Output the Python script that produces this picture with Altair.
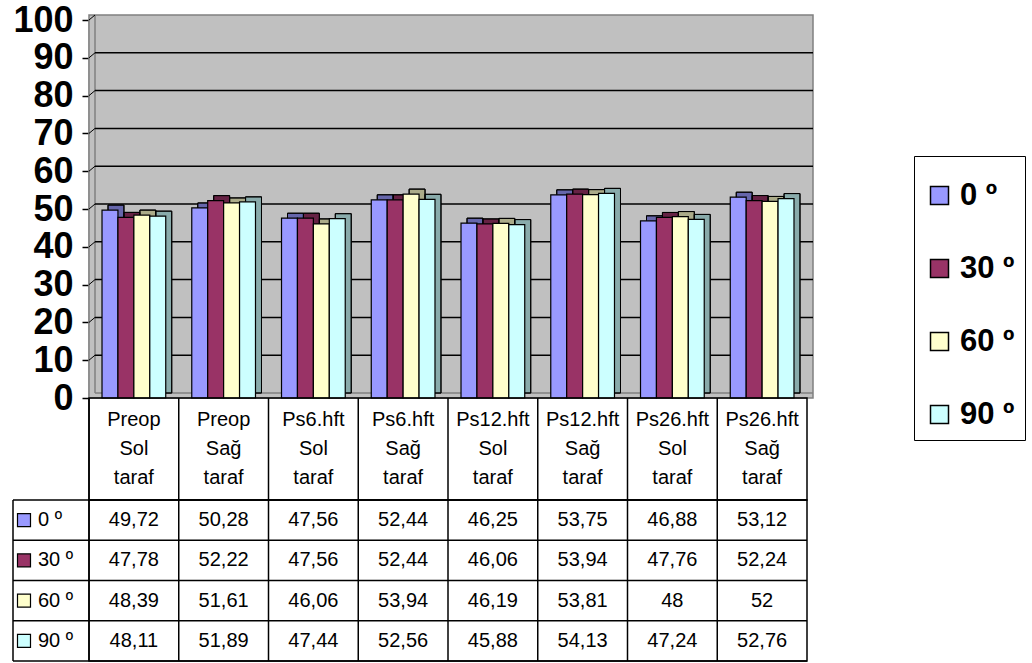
import altair as alt
import pandas as pd

# Categories (measurement time + side) and series (angle)
periods = ["Preop", "Preop", "Ps6.hft", "Ps6.hft", "Ps12.hft", "Ps12.hft", "Ps26.hft", "Ps26.hft"]
sides = ["Sol", "Sağ", "Sol", "Sağ", "Sol", "Sağ", "Sol", "Sağ"]
series = ["0 º", "30 º", "60 º", "90 º"]

v0 = [49.72, 50.28, 47.56, 52.44, 46.25, 53.75, 46.88, 53.12]
v30 = [47.78, 52.22, 47.56, 52.44, 46.06, 53.94, 47.76, 52.24]
v60 = [48.39, 51.61, 46.06, 53.94, 46.19, 53.81, 48, 52]
v90 = [48.11, 51.89, 47.44, 52.56, 45.88, 54.13, 47.24, 52.76]

y_ticks = list(range(0, 101, 10))

front_colors = ["#9999FF", "#993366", "#FFFFCC", "#CCFFFF"]

FONT = "Liberation Sans"
W, H = 718, 378          # front plane of the plot
DX, DY = 6, 5            # 3-D depth offset
HH, HV = 102, 161        # table header / value rows
LINE = 29

cats = [f"{p}\n{s}\ntaraf" for p, s in zip(periods, sides)]


def fmt(v):
    return str(v).replace(".", ",")


rows = []
for name, vals in zip(series, [v0, v30, v60, v90]):
    for c, v in zip(cats, vals):
        rows.append({"cat": c, "series": name, "value": v, "label": fmt(v)})
df = pd.DataFrame(rows)
df_cats = pd.DataFrame({"cat": cats})
df_series = pd.DataFrame({"series": series})
df_ticks = pd.DataFrame({"v": y_ticks})
one = pd.DataFrame({"k": [0]})

band_pad = dict(paddingInner=0.29, paddingOuter=0.145)
x_front = alt.X("cat:N", sort=cats, axis=None, scale=alt.Scale(**band_pad))
# the depth faces sit one depth step behind the front faces
x_back = alt.X("cat:N", sort=cats, axis=None,
               scale=alt.Scale(range=[DX, W + DX], **band_pad))
x_off = alt.XOffset("series:N", sort=series, scale=alt.Scale(padding=0))

y_scale = alt.Scale(domain=[0, 100], nice=False)
y_axis = alt.Axis(values=y_ticks, labelFontSize=36, labelFontWeight="bold",
                  labelFont=FONT, labelColor="black", tickColor="black",
                  tickSize=7, tickWidth=1.5, domainColor="black",
                  domainWidth=1.5, grid=False, labelPadding=9,
                  labelOverlap=False, labelFlush=False, title=None)
y_val = alt.Y("value:Q", title=None, scale=y_scale, axis=y_axis)
y_tick = alt.Y("v:Q", title=None, scale=y_scale, axis=y_axis)

color = alt.Color("series:N", sort=series,
                  scale=alt.Scale(domain=series, range=front_colors),
                  legend=alt.Legend(title=" ", titleFontSize=10, titlePadding=4,
                                    orient="none", legendX=825, legendY=136,
                                    labelFontSize=31, labelFontWeight="bold",
                                    labelFont=FONT, labelColor="black", labelOffset=5,
                                    symbolType="square", symbolSize=324,
                                    symbolStrokeColor="black", symbolStrokeWidth=1.5,
                                    symbolOpacity=1, rowPadding=41,
                                    padding=10, strokeColor="black"))

# back wall + side wall + floor
wall = alt.Chart(one).mark_rect(fill="#C0C0C0", stroke="#808080", strokeWidth=1.5).encode(
    x=alt.value(0), x2=alt.value(W + DX), y=alt.value(-DY), y2=alt.value(H))
corner = alt.Chart(one).mark_rule(color="#808080", strokeWidth=1.5).encode(
    x=alt.value(DX), x2=alt.value(DX), y=alt.value(-DY), y2=alt.value(H - DY))
floor_edge = alt.Chart(one).mark_rule(color="#808080", strokeWidth=1.5).encode(
    x=alt.value(DX), x2=alt.value(W + DX), y=alt.value(H - DY), y2=alt.value(H - DY))

grid_back = alt.Chart(df_ticks[(df_ticks.v > 0) & (df_ticks.v < 100)]).mark_rule(
    color="black", strokeWidth=1.5, yOffset=-DY, y2Offset=-DY).encode(
    y=y_tick, y2="v:Q", x=alt.value(DX), x2=alt.value(W + DX))
grid_side = alt.Chart(df_ticks[df_ticks.v > 0]).mark_rule(
    color="black", strokeWidth=1, y2Offset=-DY).encode(
    y=y_tick, y2="v:Q", x=alt.value(0), x2=alt.value(DX))

# depth faces: series colour, darkened by a translucent black overlay
depth = alt.Chart(df).mark_bar(
    stroke="black", strokeWidth=1, yOffset=-DY, y2Offset=-DY).encode(
    x=x_back, xOffset=x_off, y=y_val, color=color)
shade = alt.Chart(df).mark_bar(
    fill="black", fillOpacity=0.33, stroke="black", strokeWidth=1,
    yOffset=-DY, y2Offset=-DY).encode(
    x=x_back, xOffset=x_off, y=y_val)
front = alt.Chart(df).mark_bar(stroke="black", strokeWidth=1.2).encode(
    x=x_front, xOffset=x_off, y=y_val, color=color)

bars = alt.layer(wall, corner, floor_edge, grid_back, grid_side, depth, shade, front).resolve_scale(
    x="independent").properties(width=W, height=H, view=alt.ViewBackground(stroke=None))

# header row of the data table
x_tab = alt.X("cat:N", sort=cats, axis=None, scale=alt.Scale(padding=0))
head_text = alt.Chart(df_cats).mark_text(
    lineBreak="\n", fontSize=20, lineHeight=LINE, font=FONT, color="black",
    baseline="middle", dy=-LINE).encode(
    x=x_tab, y=alt.value(HH / 2), text="cat:N")
head_lines = alt.Chart(df_cats).mark_rule(color="black", strokeWidth=1.5).encode(
    x=alt.X("cat:N", sort=cats, axis=None, bandPosition=0, scale=alt.Scale(padding=0)),
    y=alt.value(0), y2=alt.value(HH))
header = alt.layer(head_lines, head_text).properties(
    width=W, height=HH, view=alt.ViewBackground(stroke="black", strokeWidth=1.5))

# value rows of the data table
y_tab = alt.Y("series:N", sort=series, axis=None, scale=alt.Scale(padding=0))
val_text = alt.Chart(df).mark_text(fontSize=20, font=FONT, color="black").encode(
    x=x_tab, y=y_tab, text="label:N")
val_vlines = alt.Chart(df_cats).mark_rule(color="black", strokeWidth=1.5).encode(
    x=alt.X("cat:N", sort=cats, axis=None, bandPosition=0, scale=alt.Scale(padding=0)),
    y=alt.value(0), y2=alt.value(HV))
val_hlines = alt.Chart(df_series).mark_rule(color="black", strokeWidth=1.5).encode(
    y=alt.Y("series:N", sort=series, axis=None, bandPosition=0, scale=alt.Scale(padding=0)),
    x=alt.value(-76), x2=alt.value(W))
left_edge = alt.Chart(one).mark_rule(color="black", strokeWidth=1.5).encode(
    x=alt.value(-76), x2=alt.value(-76), y=alt.value(0), y2=alt.value(HV))
bottom_edge = alt.Chart(one).mark_rule(color="black", strokeWidth=1.5).encode(
    x=alt.value(-76), x2=alt.value(W), y=alt.value(HV), y2=alt.value(HV))
row_keys = alt.Chart(df_series).mark_square(
    size=169, stroke="black", strokeWidth=1.2, opacity=1, filled=True).encode(
    x=alt.value(-65), y=y_tab, color=color)
row_names = alt.Chart(df_series).mark_text(
    fontSize=20, font=FONT, color="black", align="left").encode(
    x=alt.value(-51), y=y_tab, text="series:N")
values = alt.layer(val_vlines, val_hlines, left_edge, bottom_edge,
                   row_keys, row_names, val_text).properties(
    width=W, height=HV, view=alt.ViewBackground(stroke="black", strokeWidth=1.5))

chart = alt.vconcat(bars, header, values, spacing=0, bounds="flush").configure(
    font=FONT, padding={"left": 11, "top": 2, "right": 0, "bottom": 0}
).configure_view(strokeWidth=1.5)

chart.save("out.html", embed_options={"renderer": "svg", "actions": False})
